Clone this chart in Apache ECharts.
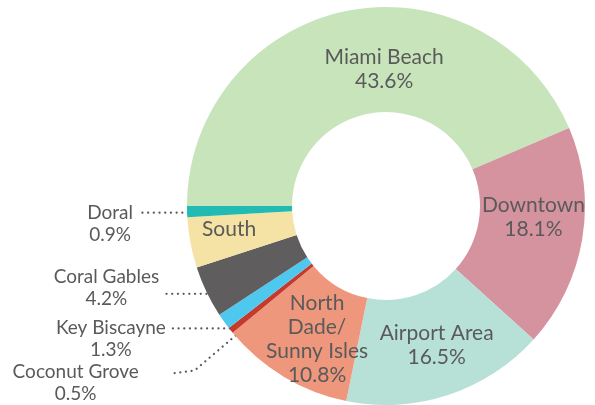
<!DOCTYPE html>
<html>
<head>
<meta charset="utf-8">
<script src="https://cdn.jsdelivr.net/npm/echarts@6/dist/echarts.min.js"></script>
<style>html,body{margin:0;padding:0;background:#fff}#c{width:595px;height:405px}</style>
</head>
<body>
<div id="c"></div>
<script>
const categories = ['Miami Beach','Downtown','Airport Area','North Dade/Sunny Isles','Coconut Grove','Key Biscayne','Coral Gables','South','Doral'];
const labelText = ['Miami Beach','Downtown','Airport Area','North\nDade/\nSunny Isles','Coconut Grove','Key Biscayne','Coral Gables','South','Doral'];
const shares = [43.6, 18.1, 16.5, 10.8, 0.5, 1.3, 4.2, 4.1, 0.9];
const showValue = [true, true, true, true, true, true, true, false, true];
const colors = ['#c8e4bb','#d5939f','#b7e1d7','#ef977c','#c43a2c','#4ec8ee','#5f5d5e','#f5e3a6','#22bbb3'];

// label placement (styling only)
const insideShift = {
  'Miami Beach': [28, 10], 'Downtown': [0, -14], 'Airport Area': [4, -3],
  'North Dade/Sunny Isles': [8, 5], 'South': [-10, -4]
};
const outsideLayout = {
  'Doral':         {text: [-77, 12],   line: [[1, 1], [-47, 1]]},
  'Coral Gables':  {text: [-100, -4],  line: [[0, 2], [-41, 2]]},
  'Key Biscayne':  {text: [-113, 17],  line: [[6, 7], [-51, 7]]},
  'Coconut Grove': {text: [-155, 52],  line: [[5, 5], [-36, 40], [-58, 43]]}
};

const CX = 386, CY = 206, R0 = 94, R1 = 199;
const font = 'Lato, "Noto Sans", sans-serif';

const data = categories.map((name, i) => {
  const outside = !!outsideLayout[name];
  return {
    name: name,
    value: shares[i],
    itemStyle: {color: colors[i]},
    label: {
      show: true,
      position: outside ? 'outside' : 'inside',
      formatter: showValue[i] ? labelText[i] + '\n' + shares[i].toFixed(1) + '%' : labelText[i],
      fontSize: outside ? 19 : 21,
      lineHeight: outside ? 22 : 24,
      align: 'center'
    },
    labelLine: {show: outside}
  };
});

// anchor on the outer edge at each slice's mid angle
const total = shares.reduce((a, b) => a + b, 0);
function anchorOf(idx) {
  let acc = 0;
  for (let i = 0; i < idx; i++) acc += shares[i];
  const mid = (acc + shares[idx] / 2) / total * 360;
  const ang = (180 - mid) * Math.PI / 180;
  return [CX + R1 * Math.cos(ang), CY - R1 * Math.sin(ang)];
}

const chart = echarts.init(document.getElementById('c'), null, {renderer: 'canvas'});
chart.setOption({
  animation: false,
  series: [{
    type: 'pie',
    center: [CX, CY],
    radius: [R0, R1],
    startAngle: 180,
    clockwise: true,
    avoidLabelOverlap: false,
    emphasis: {disabled: true},
    itemStyle: {borderWidth: 0},
    label: {color: '#5a5a5a', fontFamily: font, fontWeight: 'normal'},
    labelLine: {
      show: false,
      lineStyle: {color: '#5a5a5a', width: 2.2, type: [0.1, 5.6], cap: 'round'}
    },
    labelLayout: function (p) {
      const name = categories[p.dataIndex];
      const o = outsideLayout[name];
      if (o) {
        const a = anchorOf(p.dataIndex);
        return {
          x: a[0] + o.text[0],
          y: a[1] + o.text[1],
          align: 'center',
          verticalAlign: 'middle',
          labelLinePoints: o.line.map(d => [a[0] + d[0], a[1] + d[1]])
        };
      }
      const s = insideShift[name] || [0, 0];
      return {dx: s[0], dy: s[1]};
    },
    data: data
  }]
});
</script>
</body>
</html>
